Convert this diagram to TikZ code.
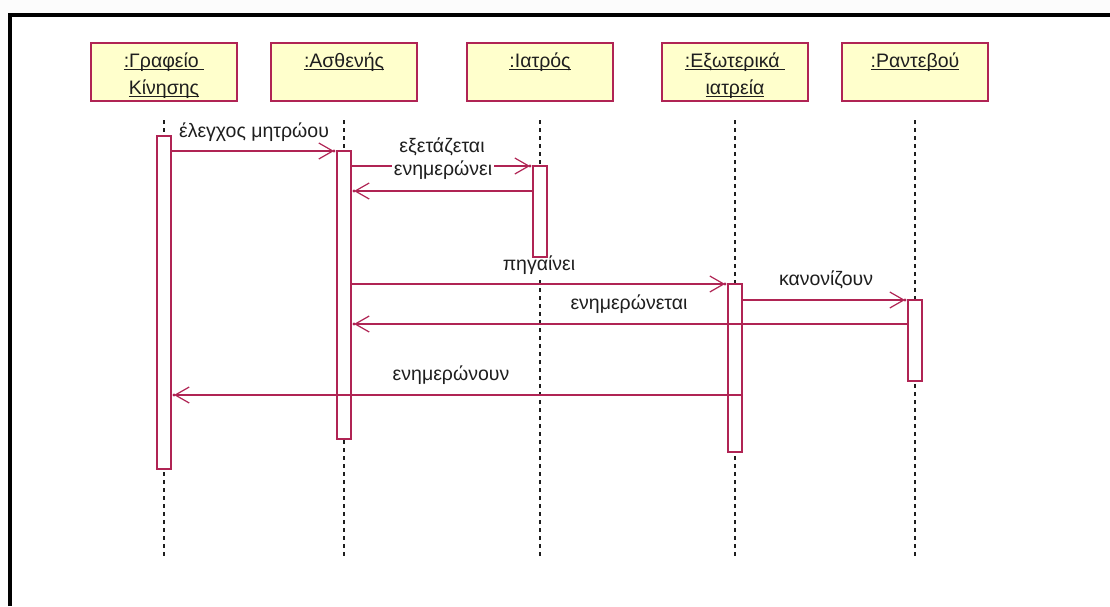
\documentclass[tikz,border=0pt]{standalone}
\usepackage{fontspec}
\setmainfont{Liberation Sans}
\usetikzlibrary{arrows.meta,decorations.markings}
\definecolor{crim}{RGB}{176,36,84}
\definecolor{objfill}{RGB}{255,255,204}
\definecolor{ink}{RGB}{30,30,30}
% underline at a fixed depth below the baseline, over the full box width
\newcommand\ulbox[1]{\setbox0\hbox{#1}\rlap{\rule[-3pt]{\wd0}{1pt}}\box0}
\begin{document}
\begin{tikzpicture}[x=1pt,y=-1pt,
  font=\fontsize{19.5}{23}\selectfont, text=ink,
  objbox/.style={draw=crim, fill=objfill, line width=1.5pt, minimum width=146pt,
    minimum height=58pt, inner sep=0pt, outer sep=0pt},
  objname/.style={anchor=base, inner sep=0pt},
  lifeline/.style={draw=ink, line width=1.1pt, dash pattern=on 4pt off 4pt},
  actbar/.style={draw=crim, fill=white, line width=1.3pt, minimum width=14pt,
    inner sep=0pt, outer sep=0pt},
  msg/.style={draw=crim, line width=1.2pt, shorten >=3pt,
    -{Straight Barb[length=14pt,width=16pt,line width=1.2pt]},
    postaction={decorate},
    decoration={markings, mark=at position -3pt with {\fill[crim] (0,0) circle (1.7pt);}}},
  msglabel/.style={anchor=base, inner sep=1.5pt},
  cover/.style={msglabel, fill=white}
]
\useasboundingbox (0,0) rectangle (1110,606);
% sheet and frame
\fill[gray!2] (0,0) rectangle (1110,606);
\fill[white] (10,15) rectangle (1110,606);
\draw[line width=4pt] (10,606) -- (10,15) -- (1110,15);

% objects
\node[objbox] (o1) at (164,72) {};
\node[objbox] (o2) at (344,72) {};
\node[objbox] (o3) at (540,72) {};
\node[objbox] (o4) at (735,72) {};
\node[objbox] (o5) at (915,72) {};
\node[objname] (o1a) at (164,67) {\ulbox{:Γραφείο\ }};
\node[objname] (o1b) at (164,94) {\ulbox{Κίνησης}};
\node[objname] (o2a) at (344,67) {\ulbox{:Ασθενής}};
\node[objname] (o3a) at (540,67) {\ulbox{:Ιατρός}};
\node[objname] (o4a) at (735,67) {\ulbox{:Εξωτερικά\ }};
\node[objname] (o4b) at (735,94) {\ulbox{ιατρεία}};
\node[objname] (o5a) at (915,67) {\ulbox{:Ραντεβού}};

% lifelines
\foreach \o in {o1,o2,o3,o4,o5}
  \draw[lifeline] ([yshift=-19pt]\o.south) -- ([yshift=-456pt]\o.south);

% this label breaks the lifeline of :Ιατρός below its bar
\node[cover] (l4) at (539,270) {πηγαίνει};

% activation bars
\node[actbar, minimum height=333pt] (a1) at (164,302.5) {};
\node[actbar, minimum height=288pt] (a2) at (344,295) {};
\node[actbar, minimum height=91pt]  (a3) at (540,211.5) {};
\node[actbar, minimum height=168pt] (a4) at (735,368) {};
\node[actbar, minimum height=81pt]  (a5) at (915,340.5) {};

% message heights
\coordinate (m1) at (0,151);
\coordinate (m2) at (0,166);
\coordinate (m3) at (0,191);
\coordinate (m4) at (0,284);
\coordinate (m5) at (0,300);
\coordinate (m6) at (0,324);
\coordinate (m7) at (0,395);

% messages
\draw[msg] (a1.east |- m1) -- (a2.west |- m1);
\draw[msg] (a2.east |- m2) -- (a3.west |- m2);
\draw[msg] (a3.west |- m3) -- (a2.east |- m3);
\draw[msg] (a2.east |- m4) -- (a4.west |- m4);
\draw[msg] (a4.east |- m5) -- (a5.west |- m5);
\draw[msg] (a5.west |- m6) -- (a2.east |- m6);
\draw[msg] (a4.east |- m7) -- (a1.east |- m7);

% message labels
\node[msglabel] (l1) at (254,137) {έλεγχος μητρώου};
\node[msglabel] (l2) at (442,152) {εξετάζεται};
\node[cover]    (l3) at (443,175) {ενημερώνει};
\node[msglabel] (l5) at (826,285) {κανονίζουν};
\node[msglabel] (l6) at (629,309) {ενημερώνεται};
\node[msglabel] (l7) at (451,380) {ενημερώνουν};
\end{tikzpicture}
\end{document}
